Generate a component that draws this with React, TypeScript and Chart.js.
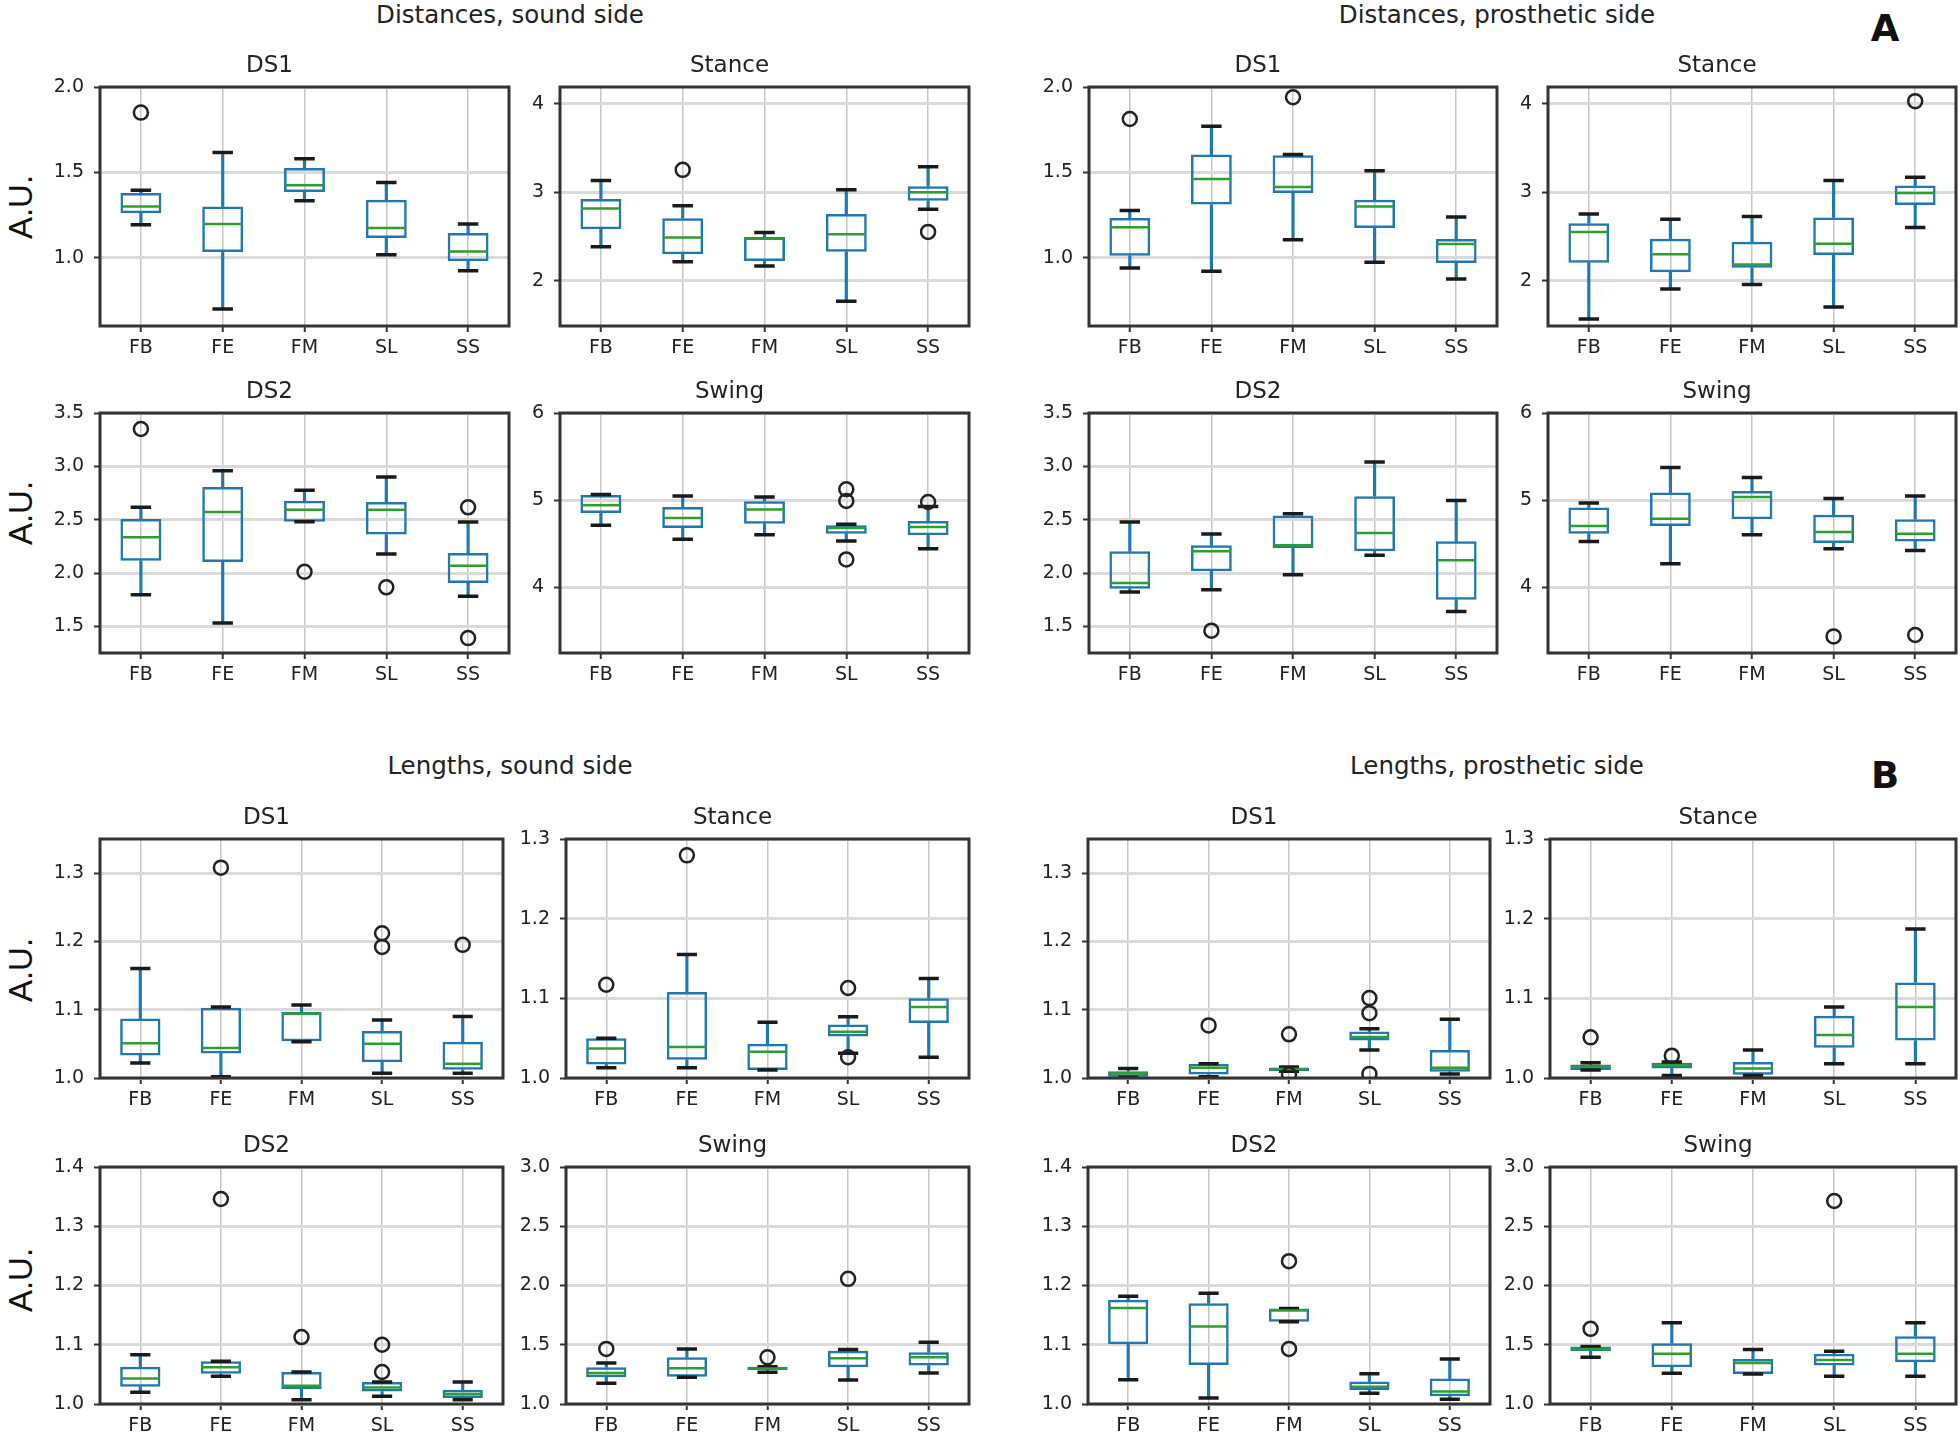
import React, { useEffect, useRef } from 'react';
import { Chart, registerables } from 'chart.js';

Chart.register(...registerables);

// ---------- data ----------
const CATEGORIES = ['FB', 'FE', 'FM', 'SL', 'SS'];

type Box = {
  lo: number[];
  q1: number[];
  med: number[];
  q3: number[];
  hi: number[];
  fliers: [string, number][];
};

// A – Distances, sound side
const distSoundDS1: Box = {
  lo: [1.193, 0.70, 1.334, 1.018, 0.924],
  q1: [1.26, 1.033, 1.385, 1.115, 0.979],
  med: [1.30, 1.197, 1.424, 1.174, 1.037],
  q3: [1.379, 1.30, 1.525, 1.34, 1.145],
  hi: [1.395, 1.617, 1.58, 1.441, 1.197],
  fliers: [['FB', 1.85]],
};
const distSoundStance: Box = {
  lo: [2.386, 2.216, 2.167, 1.769, 2.81],
  q1: [2.583, 2.30, 2.224, 2.33, 2.905],
  med: [2.818, 2.489, 2.477, 2.527, 3.0],
  q3: [2.924, 2.708, 2.496, 2.754, 3.068],
  hi: [3.133, 2.848, 2.545, 3.03, 3.29],
  fliers: [['FE', 3.254], ['SS', 2.553]],
};
const distSoundDS2: Box = {
  lo: [1.797, 1.531, 2.48, 2.178, 1.781],
  q1: [2.116, 2.103, 2.48, 2.36, 1.906],
  med: [2.334, 2.572, 2.594, 2.594, 2.069],
  q3: [2.506, 2.806, 2.678, 2.666, 2.188],
  hi: [2.616, 2.959, 2.775, 2.90, 2.478],
  fliers: [['FB', 3.35], ['FM', 2.012], ['SL', 1.866], ['SS', 2.616], ['SS', 1.39]],
};
const distSoundSwing: Box = {
  lo: [4.713, 4.552, 4.605, 4.533, 4.444],
  q1: [4.854, 4.682, 4.732, 4.617, 4.598],
  med: [4.943, 4.797, 4.893, 4.682, 4.693],
  q3: [5.06, 4.923, 4.989, 4.713, 4.762],
  hi: [5.065, 5.05, 5.038, 4.724, 4.93],
  fliers: [['SL', 5.126], ['SL', 4.992], ['SL', 4.322], ['SS', 4.98]],
};

// A – Distances, prosthetic side
const distProsDS1: Box = {
  lo: [0.94, 0.92, 1.105, 0.973, 0.875],
  q1: [1.012, 1.311, 1.379, 1.174, 0.969],
  med: [1.178, 1.461, 1.414, 1.30, 1.08],
  q3: [1.232, 1.604, 1.60, 1.34, 1.109],
  hi: [1.277, 1.77, 1.604, 1.51, 1.238],
  fliers: [['FB', 1.8125], ['FM', 1.94]],
};
const distProsStance: Box = {
  lo: [1.568, 1.909, 1.958, 1.705, 2.602],
  q1: [2.205, 2.098, 2.148, 2.292, 2.856],
  med: [2.553, 2.30, 2.186, 2.42, 2.992],
  q3: [2.652, 2.477, 2.443, 2.716, 3.076],
  hi: [2.754, 2.697, 2.727, 3.133, 3.17],
  fliers: [['SS', 4.03]],
};
const distProsDS2: Box = {
  lo: [1.822, 1.844, 1.984, 2.166, 1.64],
  q1: [1.853, 2.016, 2.234, 2.203, 1.75],
  med: [1.906, 2.203, 2.259, 2.375, 2.119],
  q3: [2.203, 2.259, 2.54, 2.72, 2.297],
  hi: [2.478, 2.366, 2.556, 3.04, 2.68],
  fliers: [['FE', 1.459]],
};
const distProsSwing: Box = {
  lo: [4.529, 4.272, 4.605, 4.444, 4.425],
  q1: [4.617, 4.705, 4.782, 4.51, 4.529],
  med: [4.705, 4.789, 5.038, 4.636, 4.617],
  q3: [4.916, 5.088, 5.107, 4.835, 4.782],
  hi: [4.969, 5.375, 5.26, 5.019, 5.05],
  fliers: [['SL', 3.44], ['SS', 3.456]],
};

// B – Lengths, sound side
const lenSoundDS1: Box = {
  lo: [1.022, 1.002, 1.053, 1.007, 1.007],
  q1: [1.033, 1.036, 1.054, 1.023, 1.012],
  med: [1.051, 1.044, 1.094, 1.05, 1.021],
  q3: [1.087, 1.103, 1.097, 1.069, 1.053],
  hi: [1.1605, 1.104, 1.107, 1.085, 1.09],
  fliers: [['FE', 1.308], ['SL', 1.212], ['SL', 1.192], ['SS', 1.195]],
};
const lenSoundStance: Box = {
  lo: [1.013, 1.013, 1.01, 1.031, 1.026],
  q1: [1.017, 1.023, 1.01, 1.052, 1.069],
  med: [1.037, 1.039, 1.033, 1.058, 1.089],
  q3: [1.05, 1.108, 1.043, 1.067, 1.10],
  hi: [1.05, 1.155, 1.07, 1.077, 1.125],
  fliers: [['FB', 1.117], ['FE', 1.2795], ['SL', 1.113], ['SL', 1.026]],
};
const lenSoundDS2: Box = {
  lo: [1.02, 1.047, 1.007, 1.013, 1.007],
  q1: [1.029, 1.051, 1.025, 1.021, 1.01],
  med: [1.043, 1.062, 1.031, 1.028, 1.017],
  q3: [1.063, 1.072, 1.054, 1.037, 1.024],
  hi: [1.083, 1.072, 1.054, 1.037, 1.037],
  fliers: [['FE', 1.346], ['FM', 1.113], ['SL', 1.10], ['SL', 1.054]],
};
const lenSoundSwing: Box = {
  lo: [1.175, 1.225, 1.268, 1.203, 1.262],
  q1: [1.225, 1.231, 1.287, 1.31, 1.324],
  med: [1.262, 1.301, 1.30, 1.386, 1.394],
  q3: [1.31, 1.394, 1.315, 1.45, 1.437],
  hi: [1.346, 1.465, 1.315, 1.459, 1.521],
  fliers: [['FB', 1.465], ['FM', 1.394], ['SL', 2.056]],
};

// B – Lengths, prosthetic side
const lenProsDS1: Box = {
  lo: [1.001, 1.002, 1.01, 1.041, 1.006],
  q1: [1.002, 1.005, 1.01, 1.055, 1.009],
  med: [1.007, 1.015, 1.013, 1.06, 1.015],
  q3: [1.01, 1.021, 1.015, 1.068, 1.041],
  hi: [1.014, 1.021, 1.016, 1.072, 1.086],
  fliers: [['FE', 1.077], ['FM', 1.064], ['FM', 1.005], ['SL', 1.117], ['SL', 1.095], ['SL', 1.006]],
};
const lenProsStance: Box = {
  lo: [1.01, 1.003, 1.003, 1.018, 1.018],
  q1: [1.01, 1.012, 1.004, 1.038, 1.047],
  med: [1.014, 1.016, 1.012, 1.054, 1.089],
  q3: [1.017, 1.019, 1.02, 1.078, 1.12],
  hi: [1.019, 1.02, 1.035, 1.089, 1.187],
  fliers: [['FB', 1.051], ['FE', 1.028]],
};
const lenProsDS2: Box = {
  lo: [1.041, 1.01, 1.139, 1.018, 1.008],
  q1: [1.101, 1.066, 1.139, 1.023, 1.013],
  med: [1.162, 1.131, 1.158, 1.029, 1.021],
  q3: [1.176, 1.17, 1.161, 1.038, 1.043],
  hi: [1.182, 1.187, 1.161, 1.051, 1.076],
  fliers: [['FM', 1.241], ['FM', 1.093]],
};
const lenProsSwing: Box = {
  lo: [1.394, 1.259, 1.254, 1.234, 1.234],
  q1: [1.445, 1.31, 1.254, 1.324, 1.352],
  med: [1.465, 1.423, 1.346, 1.372, 1.423],
  q3: [1.485, 1.513, 1.38, 1.423, 1.572],
  hi: [1.485, 1.685, 1.459, 1.445, 1.685],
  fliers: [['FB', 1.634], ['SL', 2.713]],
};

// axis limits and ticks
const YLIM_DIST_DS1 = [0.6, 2.0];
const TICKS_DIST_DS1 = [1.0, 1.5, 2.0];
const LABELS_DIST_DS1 = ['1.0', '1.5', '2.0'];
const YLIM_DIST_STANCE = [1.49, 4.19];
const TICKS_DIST_STANCE = [2, 3, 4];
const LABELS_DIST_STANCE = ['2', '3', '4'];
const YLIM_DIST_DS2 = [1.25, 3.5];
const TICKS_DIST_DS2 = [1.5, 2.0, 2.5, 3.0, 3.5];
const LABELS_DIST_DS2 = ['1.5', '2.0', '2.5', '3.0', '3.5'];
const YLIM_DIST_SWING = [3.25, 6.0];
const TICKS_DIST_SWING = [4, 5, 6];
const LABELS_DIST_SWING = ['4', '5', '6'];
const YLIM_LEN_DS1 = [1.0, 1.35];
const TICKS_LEN_DS1 = [1.0, 1.1, 1.2, 1.3];
const LABELS_LEN_DS1 = ['1.0', '1.1', '1.2', '1.3'];
const YLIM_LEN_STANCE = [1.0, 1.3];
const TICKS_LEN_STANCE = [1.0, 1.1, 1.2, 1.3];
const LABELS_LEN_STANCE = ['1.0', '1.1', '1.2', '1.3'];
const YLIM_LEN_DS2 = [1.0, 1.4];
const TICKS_LEN_DS2 = [1.0, 1.1, 1.2, 1.3, 1.4];
const LABELS_LEN_DS2 = ['1.0', '1.1', '1.2', '1.3', '1.4'];
const YLIM_LEN_SWING = [1.0, 3.0];
const TICKS_LEN_SWING = [1.0, 1.5, 2.0, 2.5, 3.0];
const LABELS_LEN_SWING = ['1.0', '1.5', '2.0', '2.5', '3.0'];

const SECTION_TITLES = ['Distances, sound side', 'Distances, prosthetic side', 'Lengths, sound side', 'Lengths, prosthetic side'];
const PANEL_LETTERS = ['A', 'B'];
const Y_LABEL = 'A.U.';

// ---------- styling / layout ----------
const C_BOX = '#1f77b4';
const C_MED = '#2ca02c';
const FONT = "'DejaVu Sans', sans-serif";
const AXIS_W = 70;
const TITLE_PAD_TOP = 10;
const TITLE_PAD_BOTTOM = 9;
const TITLE_SIZE = 23;
const XAXIS_H = 40;
const PAD_R = 4;

type PanelSpec = {
  key: string;
  title: string;
  box: Box;
  ylim: number[];
  ticks: number[];
  tickLabels: string[];
  rect: [number, number, number, number]; // left, top, right, bottom of plot area
};

const ROWS = [[87, 326], [413, 653], [839, 1078], [1167, 1404]];
const COLS_A = [[100, 509], [560, 969], [1089, 1497], [1548, 1956]];
const COLS_B = [[100, 503], [566, 969], [1088, 1490], [1550, 1956]];

const r = (c: number[], row: number[]): [number, number, number, number] => [c[0], row[0], c[1], row[1]];

const PANELS: PanelSpec[] = [
  { key: 'a1', title: 'DS1', box: distSoundDS1, ylim: YLIM_DIST_DS1, ticks: TICKS_DIST_DS1, tickLabels: LABELS_DIST_DS1, rect: r(COLS_A[0], ROWS[0]) },
  { key: 'a2', title: 'Stance', box: distSoundStance, ylim: YLIM_DIST_STANCE, ticks: TICKS_DIST_STANCE, tickLabels: LABELS_DIST_STANCE, rect: r(COLS_A[1], ROWS[0]) },
  { key: 'a3', title: 'DS1', box: distProsDS1, ylim: YLIM_DIST_DS1, ticks: TICKS_DIST_DS1, tickLabels: LABELS_DIST_DS1, rect: r(COLS_A[2], ROWS[0]) },
  { key: 'a4', title: 'Stance', box: distProsStance, ylim: YLIM_DIST_STANCE, ticks: TICKS_DIST_STANCE, tickLabels: LABELS_DIST_STANCE, rect: r(COLS_A[3], ROWS[0]) },
  { key: 'a5', title: 'DS2', box: distSoundDS2, ylim: YLIM_DIST_DS2, ticks: TICKS_DIST_DS2, tickLabels: LABELS_DIST_DS2, rect: r(COLS_A[0], ROWS[1]) },
  { key: 'a6', title: 'Swing', box: distSoundSwing, ylim: YLIM_DIST_SWING, ticks: TICKS_DIST_SWING, tickLabels: LABELS_DIST_SWING, rect: r(COLS_A[1], ROWS[1]) },
  { key: 'a7', title: 'DS2', box: distProsDS2, ylim: YLIM_DIST_DS2, ticks: TICKS_DIST_DS2, tickLabels: LABELS_DIST_DS2, rect: r(COLS_A[2], ROWS[1]) },
  { key: 'a8', title: 'Swing', box: distProsSwing, ylim: YLIM_DIST_SWING, ticks: TICKS_DIST_SWING, tickLabels: LABELS_DIST_SWING, rect: r(COLS_A[3], ROWS[1]) },
  { key: 'b1', title: 'DS1', box: lenSoundDS1, ylim: YLIM_LEN_DS1, ticks: TICKS_LEN_DS1, tickLabels: LABELS_LEN_DS1, rect: r(COLS_B[0], ROWS[2]) },
  { key: 'b2', title: 'Stance', box: lenSoundStance, ylim: YLIM_LEN_STANCE, ticks: TICKS_LEN_STANCE, tickLabels: LABELS_LEN_STANCE, rect: r(COLS_B[1], ROWS[2]) },
  { key: 'b3', title: 'DS1', box: lenProsDS1, ylim: YLIM_LEN_DS1, ticks: TICKS_LEN_DS1, tickLabels: LABELS_LEN_DS1, rect: r(COLS_B[2], ROWS[2]) },
  { key: 'b4', title: 'Stance', box: lenProsStance, ylim: YLIM_LEN_STANCE, ticks: TICKS_LEN_STANCE, tickLabels: LABELS_LEN_STANCE, rect: r(COLS_B[3], ROWS[2]) },
  { key: 'b5', title: 'DS2', box: lenSoundDS2, ylim: YLIM_LEN_DS2, ticks: TICKS_LEN_DS2, tickLabels: LABELS_LEN_DS2, rect: r(COLS_B[0], ROWS[3]) },
  { key: 'b6', title: 'Swing', box: lenSoundSwing, ylim: YLIM_LEN_SWING, ticks: TICKS_LEN_SWING, tickLabels: LABELS_LEN_SWING, rect: r(COLS_B[1], ROWS[3]) },
  { key: 'b7', title: 'DS2', box: lenProsDS2, ylim: YLIM_LEN_DS2, ticks: TICKS_LEN_DS2, tickLabels: LABELS_LEN_DS2, rect: r(COLS_B[2], ROWS[3]) },
  { key: 'b8', title: 'Swing', box: lenProsSwing, ylim: YLIM_LEN_SWING, ticks: TICKS_LEN_SWING, tickLabels: LABELS_LEN_SWING, rect: r(COLS_B[3], ROWS[3]) },
];

const framePlugin = {
  id: 'frame',
  afterDatasetsDraw(chart: any) {
    const { ctx, chartArea } = chart;
    const { left, top, right, bottom } = chartArea;
    ctx.save();
    ctx.strokeStyle = '#333';
    ctx.lineWidth = 3;
    ctx.strokeRect(left, top, right - left, bottom - top);
    ctx.restore();
  },
};

const slotWidth = (c: any) => {
  const ca = c.chart.chartArea;
  return ca ? (ca.right - ca.left) / CATEGORIES.length : 80;
};

function BoxPanel({ p }: { p: PanelSpec }) {
  const ref = useRef<HTMLCanvasElement>(null);
  const [l, t, rr, b] = p.rect;
  const titleH = TITLE_SIZE + TITLE_PAD_TOP + TITLE_PAD_BOTTOM;
  const W = rr - l + AXIS_W + PAD_R;
  const H = b - t + titleH + XAXIS_H;

  useEffect(() => {
    const bx = p.box;
    const chart = new Chart(ref.current as HTMLCanvasElement, {
      type: 'bar',
      data: {
        labels: CATEGORIES,
        datasets: [
          {
            type: 'bar',
            label: 'lower whisker',
            data: CATEGORIES.map((_, i) => [bx.lo[i], bx.q1[i]]),
            backgroundColor: C_BOX,
            borderWidth: 0,
            barThickness: 2.5,
            grouped: false,
            order: 6,
          } as any,
          {
            type: 'bar',
            label: 'upper whisker',
            data: CATEGORIES.map((_, i) => [bx.q3[i], bx.hi[i]]),
            backgroundColor: C_BOX,
            borderWidth: 0,
            barThickness: 2.5,
            grouped: false,
            order: 5,
          } as any,
          {
            type: 'bar',
            label: 'box',
            data: CATEGORIES.map((_, i) => [bx.q1[i], bx.q3[i]]),
            backgroundColor: 'rgba(0,0,0,0)',
            borderColor: C_BOX,
            borderWidth: 2.5,
            borderSkipped: false,
            inflateAmount: 0,
            barPercentage: 0.5,
            categoryPercentage: 1,
            grouped: false,
            order: 4,
          } as any,
          {
            type: 'line',
            label: 'lower cap',
            data: bx.lo,
            showLine: false,
            pointStyle: 'line',
            pointRadius: (c: any) => slotWidth(c) * 0.125,
            pointBorderColor: '#1a1a1a',
            pointBorderWidth: 3.5,
            order: 3,
          } as any,
          {
            type: 'line',
            label: 'upper cap',
            data: bx.hi,
            showLine: false,
            pointStyle: 'line',
            pointRadius: (c: any) => slotWidth(c) * 0.125,
            pointBorderColor: '#1a1a1a',
            pointBorderWidth: 3.5,
            order: 3,
          } as any,
          {
            type: 'line',
            label: 'median',
            data: bx.med,
            showLine: false,
            pointStyle: 'line',
            pointRadius: (c: any) => slotWidth(c) * 0.25 - 1,
            pointBorderColor: C_MED,
            pointBorderWidth: 2.5,
            order: 2,
          } as any,
          {
            type: 'line',
            label: 'fliers',
            data: bx.fliers.map(([x, y]) => ({ x, y })),
            showLine: false,
            pointStyle: 'circle',
            pointRadius: 7,
            pointBorderColor: '#222',
            pointBackgroundColor: 'rgba(0,0,0,0)',
            pointBorderWidth: 2.5,
            order: 1,
          } as any,
        ],
      },
      options: {
        responsive: false,
        maintainAspectRatio: false,
        animation: false,
        devicePixelRatio: 1,
        events: [],
        layout: { autoPadding: false, padding: { left: 0, right: PAD_R, top: 0, bottom: 0 } },
        plugins: {
          legend: { display: false },
          tooltip: { enabled: false },
          title: {
            display: true,
            text: p.title,
            color: '#222',
            font: { family: FONT, size: TITLE_SIZE, weight: 'normal', lineHeight: 1 },
            padding: { top: TITLE_PAD_TOP, bottom: TITLE_PAD_BOTTOM },
          },
        },
        scales: {
          x: {
            type: 'category',
            offset: true,
            afterFit: (axis: any) => {
              axis.height = XAXIS_H;
              axis.paddingLeft = 0;
              axis.paddingRight = 0;
            },
            grid: {
              offset: false,
              color: '#c6c6c6',
              lineWidth: 1.5,
              drawTicks: true,
              tickLength: 6,
              tickColor: '#333',
              tickWidth: 2,
            },
            border: { display: false },
            ticks: {
              color: '#222',
              font: { family: FONT, size: 19 },
              padding: 5,
              maxRotation: 0,
              autoSkip: false,
            },
          },
          y: {
            type: 'linear',
            min: p.ylim[0],
            max: p.ylim[1],
            afterFit: (axis: any) => {
              axis.width = AXIS_W;
            },
            afterBuildTicks: (axis: any) => {
              axis.ticks = p.ticks.map((v) => ({ value: v }));
            },
            grid: {
              color: '#dadada',
              lineWidth: 3,
              drawTicks: true,
              tickLength: 6,
              tickColor: '#333',
              tickWidth: 2,
            },
            border: { display: false },
            ticks: {
              color: '#222',
              font: { family: FONT, size: 19 },
              padding: 10,
              autoSkip: false,
              callback: (_v: any, i: number) => p.tickLabels[i],
            },
          },
        },
      },
      plugins: [framePlugin],
    } as any);
    return () => chart.destroy();
  }, []);

  return (
    <canvas
      ref={ref}
      width={W}
      height={H}
      style={{ position: 'absolute', left: l - AXIS_W, top: t - titleH, width: W, height: H }}
    />
  );
}

const textStyle = (x: number, y: number, size: number, extra: any = {}) => ({
  position: 'absolute' as const,
  left: x,
  top: y,
  transform: 'translate(-50%, -50%)',
  fontFamily: FONT,
  fontSize: size,
  lineHeight: 1,
  whiteSpace: 'nowrap' as const,
  color: '#222',
  ...extra,
});

export default function App() {
  const sectionPos = [[510, 15], [1497, 15], [510, 766], [1497, 766]];
  const letterPos = [[1885, 28], [1885, 775]];
  const auY = [207, 513, 970, 1280];
  return (
    <div style={{ position: 'absolute', left: 0, top: 0, width: 1960, height: 1438, background: '#fff', overflow: 'hidden' }}>
      {SECTION_TITLES.map((s, i) => (
        <div key={s} style={textStyle(sectionPos[i][0], sectionPos[i][1], 24.5)}>{s}</div>
      ))}
      {PANEL_LETTERS.map((s, i) => (
        <div key={s} style={textStyle(letterPos[i][0], letterPos[i][1], 37, { fontWeight: 'bold', color: '#111' })}>{s}</div>
      ))}
      {auY.map((y, i) => (
        <div
          key={i}
          style={textStyle(20, y, 33, {
            fontFamily: "'Liberation Sans', Arial, sans-serif",
            transform: 'translate(-50%, -50%) rotate(-90deg)',
            color: '#111',
          })}
        >
          {Y_LABEL}
        </div>
      ))}
      {PANELS.map((p) => (
        <BoxPanel key={p.key} p={p} />
      ))}
    </div>
  );
}
